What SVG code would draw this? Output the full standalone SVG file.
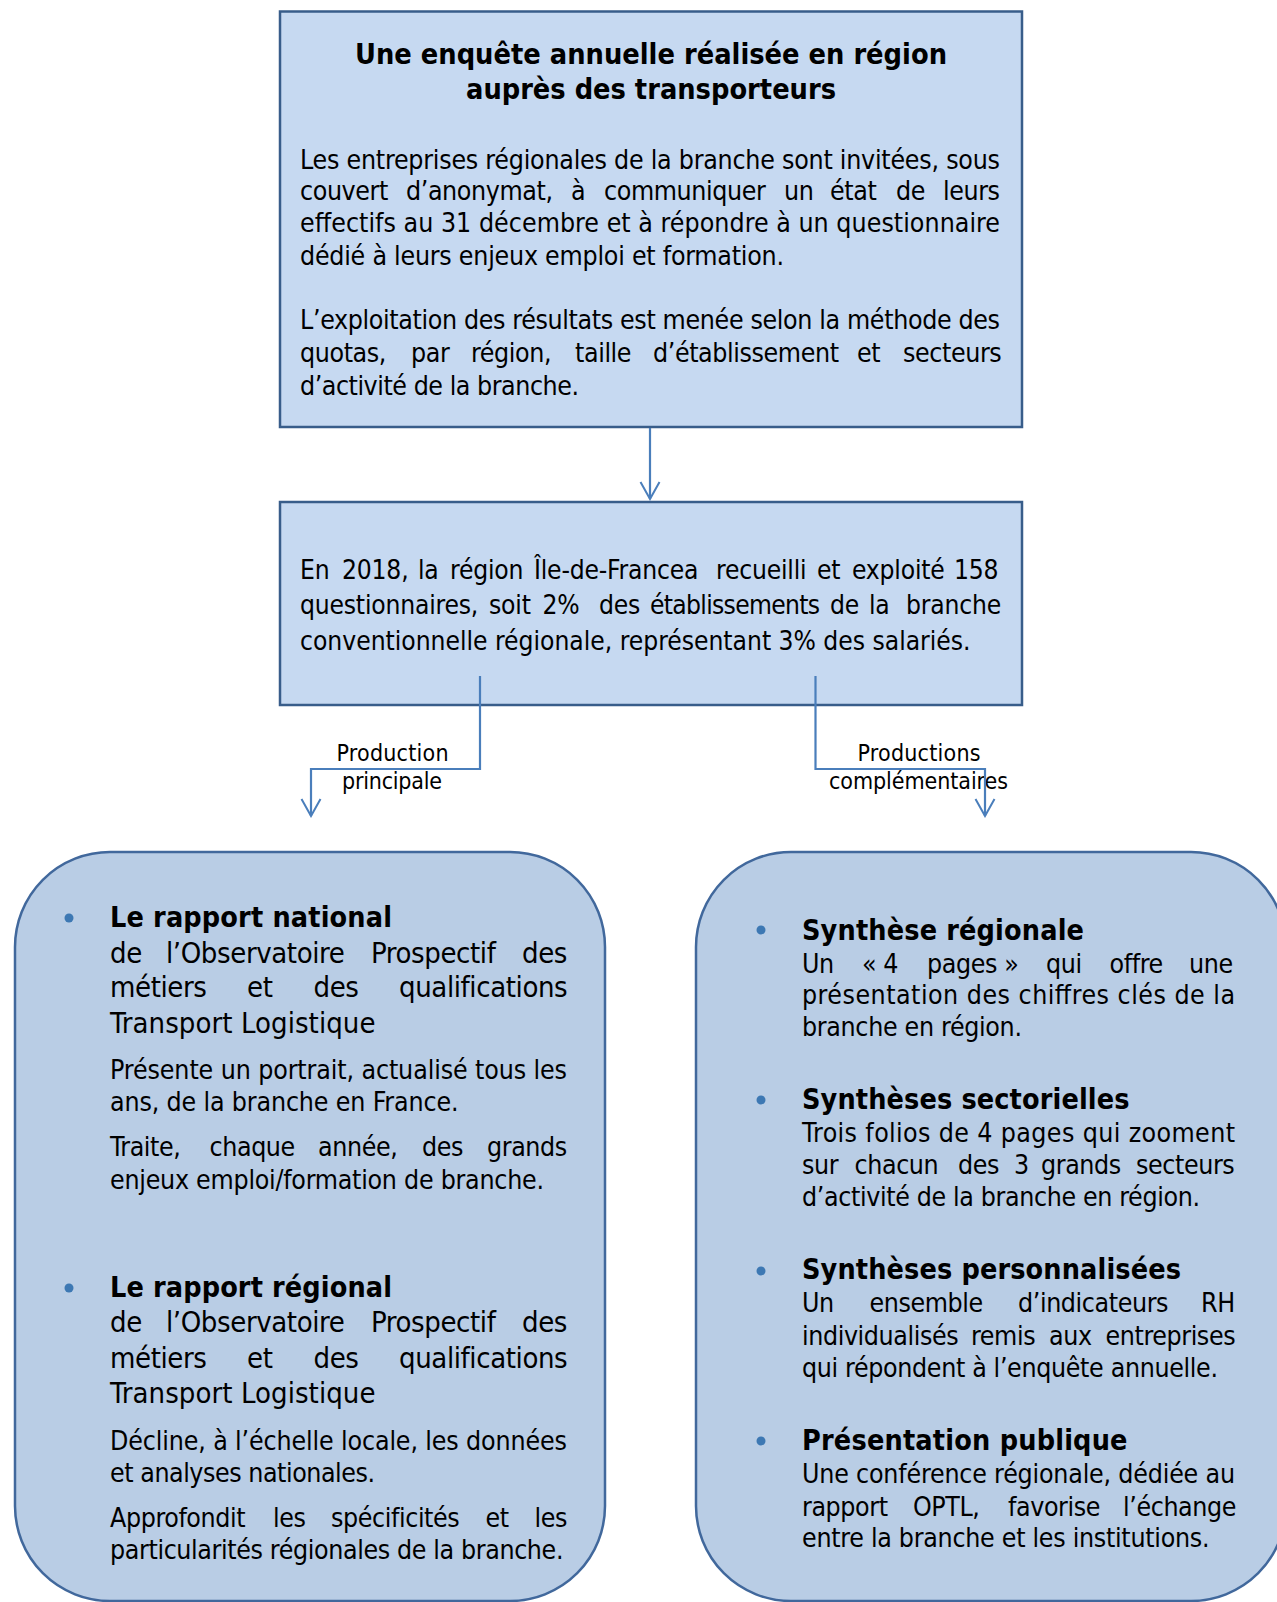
<svg xmlns="http://www.w3.org/2000/svg" width="1277" height="1602" viewBox="0 0 1277 1602">
<style>
.t{font-family:'DejaVu Sans Condensed','DejaVu Sans',sans-serif;font-stretch:condensed;fill:#000}
.f26{font-size:26.5px}
.f25{font-size:26.2px}
.f29{font-size:29px}
.f23{font-size:23px}
.bd{font-weight:bold;font-size:28.5px}
.w{letter-spacing:-0.4px}
.w2{letter-spacing:-0.2px}
.tight{letter-spacing:-0.7px}
.box{fill:#c6d9f1;stroke:#385d8a;stroke-width:2.5}
.rbox{fill:#b9cde5;stroke:#41689c;stroke-width:2.5}
.con{fill:none;stroke:#4a7ebb;stroke-width:2.2}
.dot{fill:#3d78b3}
</style>
<defs>
<marker id="arr" viewBox="-19 -11 21 22" refX="0" refY="0" markerWidth="21" markerHeight="22" orient="auto" markerUnits="userSpaceOnUse">
<path d="M-17,-9.5 L0,0 L-17,9.5" fill="none" stroke="#4a7ebb" stroke-width="2"/>
</marker>
</defs>

<g id="node-enquete">
<rect class="box" x="280" y="11.5" width="742" height="415.5"/>
<text class="t bd" x="651" y="64" text-anchor="middle" textLength="592" lengthAdjust="spacingAndGlyphs">Une enquête annuelle réalisée en région</text>
<text class="t bd" x="651" y="99" text-anchor="middle" textLength="370" lengthAdjust="spacingAndGlyphs">auprès des transporteurs</text>
<text class="t f26" x="300" y="169" textLength="700" lengthAdjust="spacing">Les entreprises régionales de la branche sont invitées, sous</text>
<text class="t f26 w" y="200"><tspan x="300">couvert</tspan><tspan x="406">d’anonymat,</tspan><tspan x="571">à</tspan><tspan x="604">communiquer</tspan><tspan x="784">un</tspan><tspan x="830">état</tspan><tspan x="896">de</tspan><tspan x="943">leurs</tspan></text>
<text class="t f26" x="300" y="232" textLength="700" lengthAdjust="spacing">effectifs au 31 décembre et à répondre à un questionnaire</text>
<text class="t f26" x="300" y="265" textLength="484" lengthAdjust="spacing">dédié à leurs enjeux emploi et formation.</text>
<text class="t f26" x="300" y="329" textLength="700" lengthAdjust="spacing">L’exploitation des résultats est menée selon la méthode des</text>
<text class="t f26 w" y="361.5"><tspan x="300">quotas,</tspan><tspan x="411">par</tspan><tspan x="471">région,</tspan><tspan x="575">taille</tspan><tspan x="653">d’établissement</tspan><tspan x="857">et</tspan><tspan x="903">secteurs</tspan></text>
<text class="t f26" x="300" y="394.5" textLength="279" lengthAdjust="spacing">d’activité de la branche.</text>
</g>

<g id="node-region">
<rect class="box" x="280" y="502" width="742" height="203"/>
<text class="t f25 w2" y="579"><tspan x="300">En</tspan><tspan x="342">2018,</tspan><tspan x="418">la</tspan><tspan x="450">région</tspan><tspan x="534">Île-de-Francea</tspan><tspan x="716">recueilli</tspan><tspan x="817">et</tspan><tspan x="852">exploité</tspan><tspan x="954">158</tspan></text>
<text class="t f25 w2" y="614"><tspan x="300">questionnaires,</tspan><tspan x="489">soit</tspan><tspan x="542.5">2%</tspan><tspan x="599">des</tspan><tspan x="650" class="tight">établissements</tspan><tspan x="830">de</tspan><tspan x="869">la</tspan><tspan x="906">branche</tspan></text>
<text class="t f25" x="300" y="650" textLength="670.5" lengthAdjust="spacing">conventionnelle régionale, représentant 3% des salariés.</text>
</g>

<g id="labels">
<text class="t f23" x="392.5" y="761" text-anchor="middle" textLength="112" lengthAdjust="spacing">Production</text>
<text class="t f23" x="392" y="788.5" text-anchor="middle" textLength="100" lengthAdjust="spacing">principale</text>
<text class="t f23" x="919" y="761" text-anchor="middle" textLength="123" lengthAdjust="spacing">Productions</text>
<text class="t f23" x="918.5" y="788.5" text-anchor="middle" textLength="179" lengthAdjust="spacing">complémentaires</text>
</g>

<g id="connectors">
<path class="con" d="M650 428 V499" marker-end="url(#arr)"/>
<path class="con" d="M480 676 V769 H311 V816" marker-end="url(#arr)"/>
<path class="con" d="M815.5 676 V769 H985 V816" marker-end="url(#arr)"/>
</g>

<g id="node-principale">
<rect class="rbox" x="15" y="852" width="590" height="749" rx="95" ry="95"/>
<circle class="dot" cx="69" cy="918" r="4.5"/>
<text class="t bd" x="110" y="926.5" textLength="282" lengthAdjust="spacing">Le rapport national</text>
<text class="t f29 w" y="962.5"><tspan x="110">de</tspan><tspan x="166">l’Observatoire</tspan><tspan x="371">Prospectif</tspan><tspan x="522">des</tspan></text>
<text class="t f29 w" y="997"><tspan x="110">métiers</tspan><tspan x="247">et</tspan><tspan x="313.5">des</tspan><tspan x="399">qualifications</tspan></text>
<text class="t f29" x="110" y="1033" textLength="265.5" lengthAdjust="spacing">Transport Logistique</text>
<text class="t f26" x="110" y="1078.5" textLength="457" lengthAdjust="spacing">Présente un portrait, actualisé tous les</text>
<text class="t f26" x="110" y="1110.5" textLength="348.5" lengthAdjust="spacing">ans, de la branche en France.</text>
<text class="t f26 w" y="1155.5"><tspan x="110">Traite,</tspan><tspan x="209.5">chaque</tspan><tspan x="318">année,</tspan><tspan x="422">des</tspan><tspan x="487">grands</tspan></text>
<text class="t f26" x="110" y="1188.5" textLength="434" lengthAdjust="spacing">enjeux emploi/formation de branche.</text>

<circle class="dot" cx="69" cy="1288" r="4.5"/>
<text class="t bd" x="110" y="1296.5" textLength="282" lengthAdjust="spacing">Le rapport régional</text>
<text class="t f29 w" y="1332"><tspan x="110">de</tspan><tspan x="166">l’Observatoire</tspan><tspan x="371">Prospectif</tspan><tspan x="522">des</tspan></text>
<text class="t f29 w" y="1367.5"><tspan x="110">métiers</tspan><tspan x="247">et</tspan><tspan x="313.5">des</tspan><tspan x="399">qualifications</tspan></text>
<text class="t f29" x="110" y="1403" textLength="265.5" lengthAdjust="spacing">Transport Logistique</text>
<text class="t f26" x="110" y="1450" textLength="457" lengthAdjust="spacing">Décline, à l’échelle locale, les données</text>
<text class="t f26" x="110" y="1482" textLength="265" lengthAdjust="spacing">et analyses nationales.</text>
<text class="t f26 w" y="1527"><tspan x="110">Approfondit</tspan><tspan x="273">les</tspan><tspan x="331">spécificités</tspan><tspan x="485.5">et</tspan><tspan x="534.5">les</tspan></text>
<text class="t f26" x="110" y="1558.5" textLength="453.5" lengthAdjust="spacing">particularités régionales de la branche.</text>
</g>

<g id="node-complementaires">
<rect class="rbox" x="696" y="852" width="590" height="749" rx="95" ry="95"/>
<circle class="dot" cx="761" cy="930" r="4.5"/>
<text class="t bd" x="802" y="940" textLength="282" lengthAdjust="spacing">Synthèse régionale</text>
<text class="t f26 w" y="972.5"><tspan x="802">Un</tspan><tspan x="862">« 4</tspan><tspan x="927">pages »</tspan><tspan x="1046">qui</tspan><tspan x="1109.5">offre</tspan><tspan x="1189">une</tspan></text>
<text class="t f26" x="802" y="1004" textLength="433" lengthAdjust="spacing">présentation des chiffres clés de la</text>
<text class="t f26" x="802" y="1036" textLength="220" lengthAdjust="spacing">branche en région.</text>

<circle class="dot" cx="761" cy="1100" r="4.5"/>
<text class="t bd" x="802" y="1109" textLength="327.5" lengthAdjust="spacing">Synthèses sectorielles</text>
<text class="t f26" x="802" y="1142" textLength="433" lengthAdjust="spacing">Trois folios de 4 pages qui zooment</text>
<text class="t f26 w" y="1173.5"><tspan x="802">sur</tspan><tspan x="854.5">chacun</tspan><tspan x="958">des</tspan><tspan x="1014">3</tspan><tspan x="1041">grands</tspan><tspan x="1136">secteurs</tspan></text>
<text class="t f26" x="802" y="1205.5" textLength="398" lengthAdjust="spacing">d’activité de la branche en région.</text>

<circle class="dot" cx="761" cy="1271" r="4.5"/>
<text class="t bd" x="802" y="1279" textLength="379" lengthAdjust="spacing">Synthèses personnalisées</text>
<text class="t f26 w" y="1312"><tspan x="802">Un</tspan><tspan x="869.5">ensemble</tspan><tspan x="1018">d’indicateurs</tspan><tspan x="1201">RH</tspan></text>
<text class="t f26 w" y="1344.5"><tspan x="802">individualisés</tspan><tspan x="971">remis</tspan><tspan x="1049">aux</tspan><tspan x="1105.5">entreprises</tspan></text>
<text class="t f26" x="802" y="1376.5" textLength="416" lengthAdjust="spacing">qui répondent à l’enquête annuelle.</text>

<circle class="dot" cx="761" cy="1441" r="4.5"/>
<text class="t bd" x="802" y="1449.5" textLength="325.5" lengthAdjust="spacing">Présentation publique</text>
<text class="t f26" x="802" y="1483" textLength="433" lengthAdjust="spacing">Une conférence régionale, dédiée au</text>
<text class="t f26 w" y="1515.5"><tspan x="802">rapport</tspan><tspan x="913">OPTL,</tspan><tspan x="1008">favorise</tspan><tspan x="1123">l’échange</tspan></text>
<text class="t f26" x="802" y="1546.5" textLength="407.5" lengthAdjust="spacing">entre la branche et les institutions.</text>
</g>
</svg>
